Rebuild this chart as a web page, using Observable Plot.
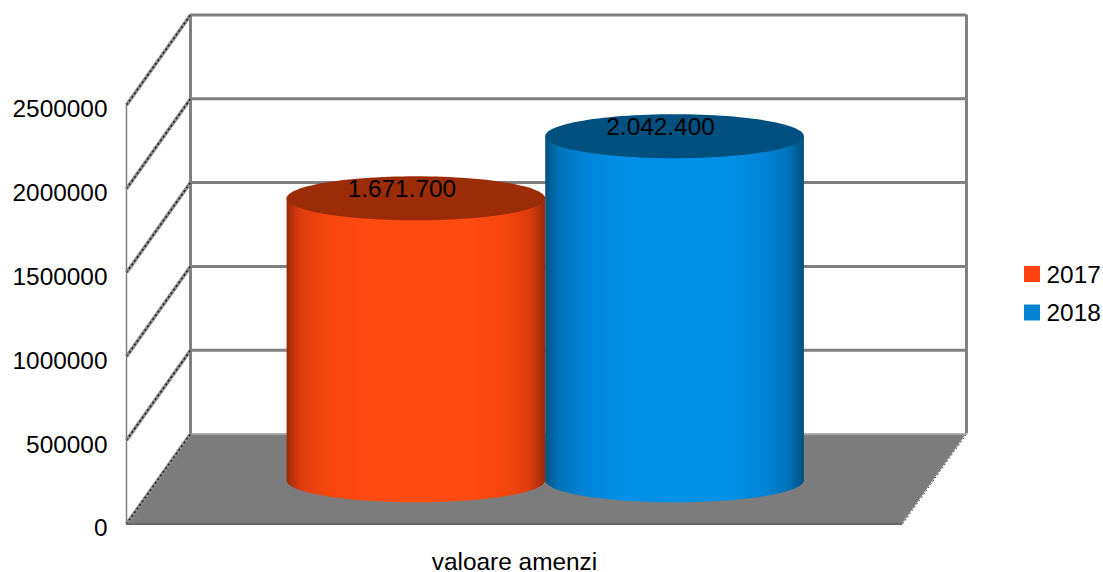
<!DOCTYPE html>
<html>
<head>
<meta charset="utf-8">
<script src="https://cdn.jsdelivr.net/npm/d3@7"></script>
<script src="https://cdn.jsdelivr.net/npm/@observablehq/plot@0.6"></script>
<style>
html,body{margin:0;padding:0;background:#fff;}
svg{display:block;}
</style>
</head>
<body>
<div id="chart"></div>
<script>
const categories = ["valoare amenzi"];
const years = ["2017", "2018"];
const values = [1671700, 2042400];
const labels = ["1.671.700", "2.042.400"];
const yTicks = [0, 500000, 1000000, 1500000, 2000000, 2500000];
const bodyColors = ["#ff4a10", "#0090e6"];
const sideColors = ["#f5460f", "#0084d6"];
const midColors = ["#dd3b0c", "#0072b8"];
const edgeColors = ["#9a2a08", "#00507f"];
const capColors = ["#9c2c08", "#00507f"];
const legendColors = ["#ff420e", "#0084d1"];

// Chart frame, in scale units
const yMax = 2500000;
const depthX = 64 / 776;          // horizontal shift of the back wall
const depthY = 90 / 419 * yMax;   // vertical shift of the back wall
const barWidth = 1 / 3;
const barStart = 1 / 6 - 0.001;
const steps = d3.range(0, 61).map(i => i / 60 * Math.PI);

function cylinder(value, i) {
  const left = barStart + i * barWidth;
  const cx = left + barWidth / 2 + depthX / 2;
  const rx = barWidth / 2;
  const ry = depthY * 22 / 90;
  const base = depthY * 0.48;
  const top = value + depthY / 2;
  return {
    body: steps.map(t => ({x: cx + rx * Math.cos(t), y1: base - ry * Math.sin(t), y2: top})),
    cap: steps.map(t => ({x: cx + rx * Math.cos(t), y1: top - ry * Math.sin(t), y2: top + ry * Math.sin(t)})),
    center: {x: cx, y: top}
  };
}
const cylinders = values.map(cylinder);

const floor = [
  {x: 0, y1: 0, y2: 0},
  {x: depthX, y1: 0, y2: depthY},
  {x: 1, y1: 0, y2: depthY},
  {x: 1 + depthX, y1: depthY, y2: depthY}
];

const font = "Liberation Sans, Arial, sans-serif";
const grey = "#808080";

const gradients = () => {
  const ns = "http://www.w3.org/2000/svg";
  const defs = document.createElementNS(ns, "defs");
  years.forEach((year, i) => {
    const g = document.createElementNS(ns, "linearGradient");
    g.setAttribute("id", "cyl" + year);
    g.setAttribute("x1", "0"); g.setAttribute("x2", "1");
    g.setAttribute("y1", "0"); g.setAttribute("y2", "0");
    [[0, edgeColors[i]], [0.05, midColors[i]], [0.15, sideColors[i]], [0.3, bodyColors[i]],
     [0.72, bodyColors[i]], [0.85, sideColors[i]], [0.94, midColors[i]], [1, edgeColors[i]]].forEach(([o, c]) => {
      const s = document.createElementNS(ns, "stop");
      s.setAttribute("offset", o);
      s.setAttribute("stop-color", c);
      g.appendChild(s);
    });
    defs.appendChild(g);
  });
  return defs;
};

const plot = Plot.plot({
  width: 1103,
  height: 572,
  marginTop: 14.5,
  marginLeft: 126,
  marginRight: 201,
  marginBottom: 48.5,
  style: {background: "#fff", fontFamily: font, overflow: "visible"},
  x: {type: "linear", domain: [0, 1], range: [126, 902]},
  y: {type: "linear", domain: [0, yMax], range: [523.5, 104.5]},
  marks: [
    gradients,
    // floor
    Plot.areaY(floor, {x: "x", y1: "y1", y2: "y2", fill: "#7c7c7c"}),
    // back wall grid
    Plot.ruleY(yTicks.slice(1), {y: d => d + depthY, x1: depthX, x2: 1 + depthX, stroke: grey, strokeWidth: 3}),
    Plot.ruleY([depthY], {x1: depthX, x2: 1 + depthX, stroke: "#b0b0b0", strokeWidth: 1.5}),
    Plot.ruleX([depthX, 1 + depthX], {y1: depthY, y2: yMax + depthY, stroke: grey, strokeWidth: 3}),
    // side wall grid
    Plot.link(yTicks, {x1: 0, y1: d => d, x2: depthX, y2: d => d + depthY, stroke: "#8c8c8c", strokeWidth: 3.5}),
    Plot.link(yTicks, {x1: 0, y1: d => d, x2: depthX, y2: d => d + depthY, stroke: "#222", strokeWidth: 1.6, strokeDasharray: "2 2.5"}),
    Plot.ruleX([0], {y1: 0, y2: yMax, stroke: grey, strokeWidth: 1.5}),
    Plot.ruleY([0], {x1: 0, x2: 1, stroke: "#666", strokeWidth: 2}),
    // right floor edge
    Plot.link([0], {x1: 1, y1: 0, x2: 1 + depthX, y2: depthY, stroke: "#444", strokeWidth: 1, strokeDasharray: "2 2"}),
    // cylinders
    ...cylinders.flatMap((c, i) => [
      Plot.areaY(c.body, {x: "x", y1: "y1", y2: "y2", fill: `url(#cyl${years[i]})`}),
      Plot.areaY(c.cap, {x: "x", y1: "y1", y2: "y2", fill: capColors[i]}),
      Plot.text([labels[i]], {
        x: c.center.x, y: c.center.y, text: d => d, dx: -14.5, dy: -10,
        fontSize: 24.4, fill: "#000", fontFamily: font
      })
    ]),
    // axes
    Plot.axisY({
      ticks: yTicks, tickFormat: d => String(d), label: null, anchor: "left",
      tickSize: 0, tickPadding: 19, fontSize: 24.4, dy: 4.5, color: "#000", fontFamily: font
    }),
    Plot.axisX({
      ticks: [0.5], tickFormat: () => categories[0], label: null, anchor: "bottom",
      tickSize: 0, tickPadding: 29, fontSize: 24.4, color: "#000", fontFamily: font
    }),
    // legend
    ...years.flatMap((year, i) => [
      Plot.dot([year], {
        frameAnchor: "top-left", dx: 905.5, dy: 259 + i * 38.5,
        symbol: "square", r: 9, fill: legendColors[i], stroke: "none"
      }),
      Plot.text([year], {
        frameAnchor: "top-left", dx: 920, dy: 260 + i * 38.5, text: d => d,
        textAnchor: "start", lineAnchor: "middle", fontSize: 24.4, fill: "#000", fontFamily: font
      })
    ])
  ]
});
document.getElementById("chart").appendChild(plot);
</script>
</body>
</html>
